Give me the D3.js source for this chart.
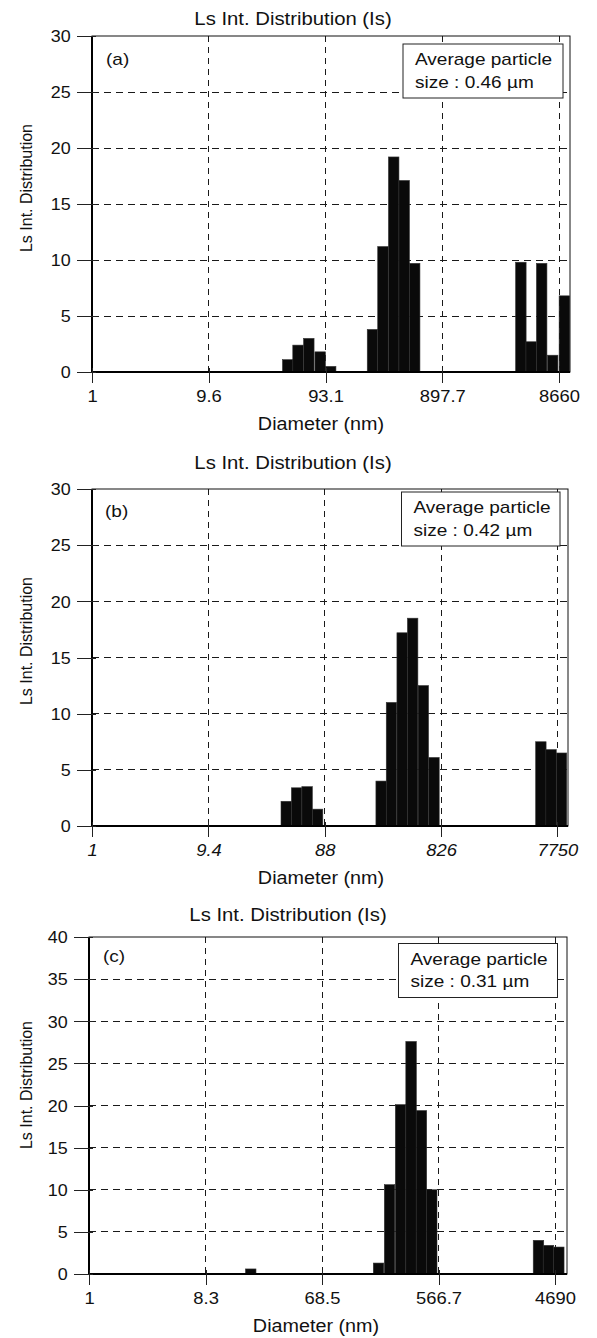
<!DOCTYPE html>
<html>
<head>
<meta charset="UTF-8">
<title>Ls Int. Distribution</title>
<script src="https://d3js.org/d3.v7.min.js"></script>
<style>
  body { margin: 0; background: #fff; }
  text { font-family: "Liberation Sans", Arial, sans-serif; fill: #111; }
  line { shape-rendering: crispEdges; }
</style>
</head>
<body>
<script>
// --- data (diameter in nm = bin centre, value = Ls intensity %) ---
const diamA = [44.7, 54.6, 67.3, 83.9, 102.9, 231.7, 284.0, 349.7, 428.7, 525.6, 4129, 5047, 6185, 7658, 9610]
const valA  = [1.1, 2.4, 3.0, 1.8, 0.5, 3.8, 11.2, 19.2, 17.1, 9.7, 9.8, 2.7, 9.7, 1.5, 6.8]
const ticksA = [1, 9.6, 93.1, 897.7, 8660]

const diamB = [42.0, 51.3, 62.8, 76.8, 260.9, 318.3, 390.9, 478.5, 587.4, 721.2, 5642, 6862, 8396]
const valB  = [2.2, 3.4, 3.5, 1.5, 4.0, 11.0, 17.2, 18.5, 12.5, 6.1, 7.5, 6.8, 6.5]
const ticksB = [1, 9.4, 88, 826, 7750]

const diamC = [18.8, 191, 233.3, 284.9, 344.6, 415.8, 501.3, 3475, 4166, 5024]
const valC  = [0.6, 1.3, 10.6, 20.1, 27.6, 19.4, 10.0, 4.0, 3.4, 3.2]
const ticksC = [1, 8.3, 68.5, 566.7, 4690]

const avgSizes = ['0.46', '0.42', '0.31']
const letters = ['(a)', '(b)', '(c)']

const svg = d3.select('body').append('svg')
  .attr('width', 597)
  .attr('height', 1338)

// scanned text is a bit wider than the font, so stretch horizontally
function txt(g, str, x, y, size, sx, anchor) {
  return g.append('text')
    .attr('transform', `translate(${x},${y}) scale(${sx},1)`)
    .attr('text-anchor', anchor || 'start')
    .style('font-size', size + 'px')
    .text(str)
}

function drawPanel(p) {
  const g = svg.append('g')

  const x = d3.scaleLog().domain([1, p.xEnd]).range([p.left, p.right])
  const y = d3.scaleLinear().domain([0, p.yMax]).range([p.bottom, p.top])
  const yTicks = d3.range(0, p.yMax + 1, 5)

  // dashed grid
  g.selectAll('.hgrid').data(yTicks.filter(d => d > 0 && d < p.yMax))
    .enter().append('line')
    .attr('x1', p.left).attr('x2', p.right)
    .attr('y1', d => y(d)).attr('y2', d => y(d))
    .attr('stroke', '#1a1a1a').attr('stroke-width', 1)
    .attr('stroke-dasharray', '7,5')
  g.selectAll('.vgrid').data(p.ticks.slice(1))
    .enter().append('line')
    .attr('x1', d => x(d)).attr('x2', d => x(d))
    .attr('y1', p.top).attr('y2', p.bottom)
    .attr('stroke', '#1a1a1a').attr('stroke-width', 1)
    .attr('stroke-dasharray', '6,5')

  // bars (log bins)
  const k = Math.pow(10, p.binLog / 2)
  g.selectAll('rect.bar').data(p.diam.map((d, i) => ({ d: d, v: p.vals[i] })))
    .enter().append('rect')
    .attr('class', 'bar')
    .attr('x', d => x(d.d / k))
    .attr('width', d => x(d.d * k) - x(d.d / k))
    .attr('y', d => y(d.v))
    .attr('height', d => y(0) - y(d.v))
    .attr('fill', '#0a0a0a')
    .attr('stroke', '#333')
    .attr('stroke-width', 0.6)

  // frame
  g.append('rect')
    .attr('x', p.left).attr('y', p.top)
    .attr('width', p.right - p.left).attr('height', p.bottom - p.top)
    .attr('fill', 'none').attr('stroke', '#111').attr('stroke-width', 1)
  g.append('line').attr('x1', p.left).attr('x2', p.left)
    .attr('y1', p.top).attr('y2', p.bottom)
    .attr('stroke', '#000').attr('stroke-width', 1.6)
  g.append('line').attr('x1', p.left).attr('x2', p.right)
    .attr('y1', p.bottom).attr('y2', p.bottom)
    .attr('stroke', '#000').attr('stroke-width', 1.6)

  // y axis
  const yAxisG = g.append('g')
    .attr('transform', `translate(${p.left},0)`)
    .call(d3.axisLeft(y).tickValues(yTicks).tickSizeOuter(0))
  yAxisG.select('.domain').remove()
  yAxisG.selectAll('.tick line').attr('x1', 4).attr('x2', -15).attr('stroke', '#222')
  yAxisG.selectAll('.tick text')
    .attr('x', -19).attr('dy', '0.36em')
    .attr('transform', 'scale(1.12,1)')
    .style('font-size', '16px')
    .style('font-family', '"Liberation Sans", Arial, sans-serif')
    .attr('fill', '#111')

  // x axis
  const xAxisG = g.append('g')
    .attr('transform', `translate(0,${p.bottom})`)
    .call(d3.axisBottom(x).tickValues(p.ticks).tickFormat(d => String(d)).tickSizeOuter(0))
  xAxisG.select('.domain').remove()
  xAxisG.selectAll('.tick line').attr('y1', -4).attr('y2', 11).attr('stroke', '#222')
  xAxisG.selectAll('.tick text')
    .attr('y', 30).attr('dy', 0)
    .attr('transform', 'scale(1.15,1)')
    .style('font-size', '16px')
    .style('font-style', p.italic ? 'italic' : 'normal')
    .style('font-family', '"Liberation Sans", Arial, sans-serif')
    .attr('fill', '#111')

  // titles
  txt(g, 'Ls Int. Distribution (Is)', p.titleX, p.titleY, 17.5, 1.16, 'middle')
  txt(g, 'Diameter (nm)', p.xlabX, p.bottom + 58, 17.5, 1.13, 'middle')
  g.append('text')
    .attr('transform', `translate(32,${p.ylabY}) rotate(-90)`)
    .attr('text-anchor', 'middle')
    .style('font-size', '16px')
    .text('Ls Int. Distribution')

  // panel letter
  txt(g, p.letter, p.letterX, p.letterY, 17, 1.12, 'start')

  // legend box
  g.append('rect')
    .attr('x', p.legX).attr('y', p.legY)
    .attr('width', p.legW).attr('height', 54)
    .attr('fill', '#fff').attr('stroke', '#222').attr('stroke-width', 1)
  txt(g, 'Average particle', p.legX + 12, p.legY + 21, 17, 1.12, 'start')
  const t2 = txt(g, 'size : ' + p.avg + ' ', p.legX + 12, p.legY + 43.5, 17, 1.12, 'start')
  t2.append('tspan').text('\u00b5m')
}

drawPanel({
  diam: diamA, vals: valA, ticks: ticksA, avg: avgSizes[0], letter: letters[0],
  left: 92, right: 570, top: 36, bottom: 372, xEnd: 10720, yMax: 30, binLog: 0.0885,
  titleX: 293, titleY: 25, xlabX: 321, ylabY: 188,
  letterX: 106, letterY: 65, legX: 403, legY: 44, legW: 160, italic: false
})
drawPanel({
  diam: diamB, vals: valB, ticks: ticksB, avg: avgSizes[1], letter: letters[1],
  left: 92, right: 568, top: 489, bottom: 826, xEnd: 9510, yMax: 30, binLog: 0.0872,
  titleX: 293, titleY: 469, xlabX: 321, ylabY: 641,
  letterX: 105, letterY: 517, legX: 401.5, legY: 492, legW: 158.5, italic: true
})
drawPanel({
  diam: diamC, vals: valC, ticks: ticksC, avg: avgSizes[2], letter: letters[2],
  left: 89, right: 567, top: 937, bottom: 1274, xEnd: 5830, yMax: 40, binLog: 0.0827,
  titleX: 288, titleY: 921, xlabX: 316, ylabY: 1085,
  letterX: 103, letterY: 962, legX: 398.5, legY: 943.5, legW: 159, italic: false
})
</script>
</body>
</html>
